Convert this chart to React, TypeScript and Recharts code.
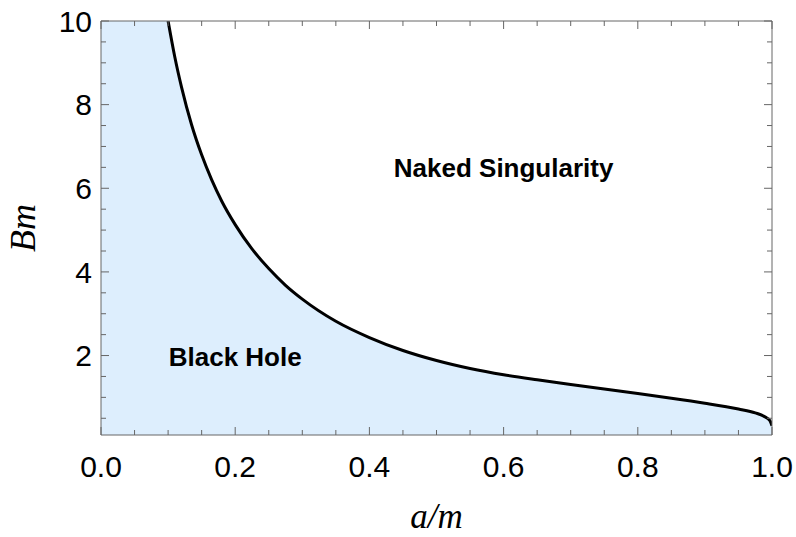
import React from "react";
import {
  ComposedChart,
  Area,
  Line,
  XAxis,
  YAxis,
  ReferenceDot,
} from "recharts";

// horizon curve
const aOverM = [
  0.1, 0.11, 0.12, 0.135, 0.15, 0.165, 0.18, 0.2, 0.225, 0.25, 0.275, 0.3,
  0.35, 0.4, 0.45, 0.5, 0.55, 0.6, 0.65, 0.7, 0.75, 0.8, 0.85, 0.9, 0.95,
  0.975, 0.99, 0.997, 1.0,
];
const bm = [
  10, 9.14, 8.42, 7.52, 6.8, 6.2, 5.69, 5.13, 4.55, 4.08, 3.68, 3.35, 2.82,
  2.43, 2.12, 1.88, 1.69, 1.54, 1.42, 1.31, 1.2, 1.09, 0.98, 0.86, 0.72, 0.63,
  0.53, 0.44, 0.32,
];

const xTicks = [
  0, 0.05, 0.1, 0.15, 0.2, 0.25, 0.3, 0.35, 0.4, 0.45, 0.5, 0.55, 0.6, 0.65,
  0.7, 0.75, 0.8, 0.85, 0.9, 0.95, 1.0,
];
const yTicks = [
  0.5, 1, 1.5, 2, 2.5, 3, 3.5, 4, 4.5, 5, 5.5, 6, 6.5, 7, 7.5, 8, 8.5, 9, 9.5,
  10,
];
const xDomain: [number, number] = [0, 1];
const yDomain: [number, number] = [0.1, 10];

const regionLabels = [
  { text: "Naked Singularity", a: 0.6, b: 6.48 },
  { text: "Black Hole", a: 0.2, b: 1.96 },
];

const data = [
  { a: 0, shade: yDomain[1] },
  ...aOverM.map((a, i) => ({ a, shade: bm[i], bm: bm[i] })),
];

const FRAME = "#666";
const SANS = "'Liberation Sans', Arial, sans-serif";
const SERIF = "'Liberation Serif', 'Times New Roman', serif";
const X_GAP = 21;
const Y_GAP = 9;

const isMajor = (v: number, step: number) =>
  Math.abs(v / step - Math.round(v / step)) < 1e-6;

function BottomTick(props: any) {
  const { x, y, payload } = props;
  const major = isMajor(payload.value, 0.2);
  const axisY = y - X_GAP;
  return (
    <g>
      <line x1={x} x2={x} y1={axisY} y2={axisY - (major ? 8 : 5)} stroke={FRAME} />
      {major && (
        <text x={x} y={y} dy="0.71em" textAnchor="middle" fontSize={30} fontFamily={SANS} fill="#000">
          {payload.value.toFixed(1)}
        </text>
      )}
    </g>
  );
}

function LeftTick(props: any) {
  const { x, y, payload } = props;
  const major = isMajor(payload.value, 2);
  const axisX = x + Y_GAP;
  return (
    <g>
      <line x1={axisX} x2={axisX + (major ? 8 : 5)} y1={y} y2={y} stroke={FRAME} />
      {major && (
        <text x={x} y={y} dy="0.36em" textAnchor="end" fontSize={30} fontFamily={SANS} fill="#000">
          {payload.value}
        </text>
      )}
    </g>
  );
}

function TopTick(props: any) {
  const { x, y, payload } = props;
  const major = isMajor(payload.value, 0.2);
  return <line x1={x} x2={x} y1={y} y2={y + (major ? 8 : 5)} stroke={FRAME} />;
}

function RightTick(props: any) {
  const { x, y, payload } = props;
  const major = isMajor(payload.value, 2);
  return <line x1={x} x2={x - (major ? 8 : 5)} y1={y} y2={y} stroke={FRAME} />;
}

export default function App() {
  return (
    <div style={{ position: "absolute", left: 0, top: 0, width: 796, height: 537, background: "#fff" }}>
      <ComposedChart
        width={796}
        height={537}
        data={data}
        margin={{ top: 20, right: 23, bottom: 0, left: 0 }}
      >
        <Area
          dataKey="shade"
          type="monotone"
          fill="#DDEEFD"
          fillOpacity={1}
          stroke="none"
          isAnimationActive={false}
        />
        <Line
          dataKey="bm"
          type="monotone"
          stroke="#000"
          strokeWidth={3}
          dot={false}
          activeDot={false}
          isAnimationActive={false}
        />
        {regionLabels.map((l) => (
          <ReferenceDot
            key={l.text}
            x={l.a}
            y={l.b}
            r={0}
            fill="none"
            stroke="none"
            label={{
              value: l.text,
              position: "center",
              fontSize: 26,
              fontWeight: 700,
              fontFamily: SANS,
              fill: "#000",
            }}
          />
        ))}
        <XAxis
          dataKey="a"
          type="number"
          domain={xDomain}
          allowDataOverflow
          ticks={xTicks}
          interval={0}
          height={102}
          tickSize={0}
          tickMargin={X_GAP}
          tick={<BottomTick />}
          axisLine={{ stroke: FRAME }}
          label={{
            content: (p: any) => (
              <text
                x={p.viewBox.x + p.viewBox.width / 2}
                y={528}
                textAnchor="middle"
                fontSize={35}
                fontStyle="italic"
                fontFamily={SERIF}
                fill="#000"
              >
                a/m
              </text>
            ),
          }}
        />
        <XAxis
          xAxisId="top"
          orientation="top"
          dataKey="a"
          type="number"
          domain={xDomain}
          allowDataOverflow
          ticks={xTicks}
          interval={0}
          height={1}
          tickSize={0}
          tickMargin={0}
          tick={<TopTick />}
          axisLine={{ stroke: FRAME }}
        />
        <YAxis
          type="number"
          domain={yDomain}
          allowDataOverflow
          ticks={yTicks}
          interval={0}
          width={101}
          tickSize={0}
          tickMargin={Y_GAP}
          tick={<LeftTick />}
          axisLine={{ stroke: FRAME }}
          label={{
            content: (p: any) => {
              const cy = p.viewBox.y + p.viewBox.height / 2;
              return (
                <text
                  x={35}
                  y={cy}
                  transform={`rotate(-90, 35, ${cy})`}
                  textAnchor="middle"
                  fontSize={36}
                  fontStyle="italic"
                  fontFamily={SERIF}
                  fill="#000"
                >
                  Bm
                </text>
              );
            },
          }}
        />
        <YAxis
          yAxisId="right"
          orientation="right"
          type="number"
          domain={yDomain}
          allowDataOverflow
          ticks={yTicks}
          interval={0}
          width={1}
          tickSize={0}
          tickMargin={0}
          tick={<RightTick />}
          axisLine={{ stroke: FRAME }}
        />
      </ComposedChart>
    </div>
  );
}
